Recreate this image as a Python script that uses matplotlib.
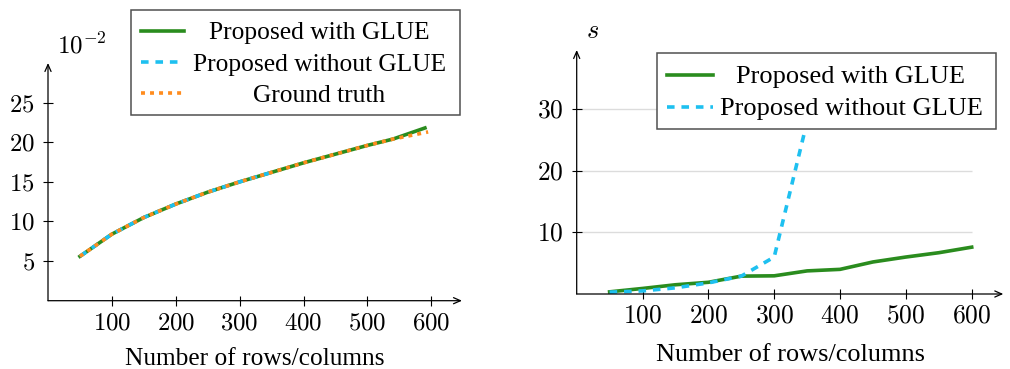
import matplotlib
matplotlib.use("Agg")
import matplotlib.pyplot as plt
from matplotlib.patches import Rectangle
from matplotlib.lines import Line2D
from matplotlib.ticker import FuncFormatter

plt.rcParams['font.family'] = ['Liberation Serif', 'DejaVu Serif']
plt.rcParams['mathtext.fontset'] = 'cm'

# left panel: error (x 10^-2)
x_err = [50, 100, 150, 200, 250, 300, 350, 400, 450, 500, 540, 590]
err_glue = [5.6, 8.4, 10.5, 12.2, 13.7, 15.0, 16.2, 17.4, 18.5, 19.6, 20.4, 21.8]
x_err_noglue = [50, 100, 150, 200, 250, 300, 350]
err_noglue = [5.6, 8.4, 10.5, 12.2, 13.7, 15.0, 16.2]
x_truth = [50, 100, 150, 200, 250, 300, 350, 400, 450, 500, 540, 595]
err_truth = [5.6, 8.4, 10.5, 12.2, 13.7, 15.0, 16.2, 17.4, 18.5, 19.6, 20.4, 21.3]

# right panel: time in seconds
x_time = [50, 100, 150, 200, 250, 300, 350, 400, 450, 500, 550, 600]
time_glue = [0.35, 0.9, 1.5, 1.9, 2.9, 2.95, 3.75, 4.0, 5.2, 6.0, 6.7, 7.6]
x_time_noglue = [50, 100, 150, 200, 250, 300, 350]
time_noglue = [0.3, 0.5, 1.0, 1.8, 2.9, 6.0, 28.0]

xticks = [100, 200, 300, 400, 500, 600]
yticks_err = [5, 10, 15, 20, 25]
yticks_time = [10, 20, 30]

GREEN = '#2a8c1e'
BLUE = '#1ec0f0'
ORANGE = '#ff8c1e'
LW = 2.6
styles = {
    'glue': dict(color=GREEN, lw=LW, ls='-'),
    'noglue': dict(color=BLUE, lw=LW, ls=(0, (2.1, 1.9))),
    'truth': dict(color=ORANGE, lw=LW, ls=(0, (1.1, 1.4))),
}

W, H = 1010, 369
fig = plt.figure(figsize=(W / 100, H / 100), dpi=100)


def fx(x):
    return x / W


def fy(y):
    return 1 - y / H


def px_axes(x0, y0, x1, y1):
    return fig.add_axes([fx(x0), fy(y1), fx(x1) - fx(x0), fy(y0) - fy(y1)])


def style_axis(ax, fs):
    for s in ax.spines.values():
        s.set_visible(False)
    ax.annotate('', xy=(1, 0), xytext=(0, 0), xycoords='axes fraction',
                arrowprops=dict(arrowstyle='->,head_length=0.5,head_width=0.22',
                                lw=0.9, color='k', shrinkA=0, shrinkB=0),
                annotation_clip=False)
    ax.annotate('', xy=(0, 1), xytext=(0, 0), xycoords='axes fraction',
                arrowprops=dict(arrowstyle='->,head_length=0.5,head_width=0.22',
                                lw=0.9, color='k', shrinkA=0, shrinkB=0),
                annotation_clip=False)
    ax.tick_params(direction='inout', length=7, width=0.8, labelsize=fs)
    ax.tick_params(axis='x', pad=5)
    ax.tick_params(axis='y', pad=6)
    ax.xaxis.set_major_formatter(FuncFormatter(lambda v, p: f'${v:.0f}$'))
    ax.yaxis.set_major_formatter(FuncFormatter(lambda v, p: f'${v:.0f}$'))
    ax.set_xticks(xticks)
    ax.set_xlim(0, 648)
    ax.patch.set_alpha(0)


def draw_legend(box, rows, sx, tx, fs):
    x0, y0, x1, y1 = box
    fig.add_artist(Rectangle((fx(x0), fy(y1)), fx(x1) - fx(x0), fy(y0) - fy(y1),
                             transform=fig.transFigure, facecolor='white',
                             edgecolor='#505050', lw=1.1, zorder=5))
    for y, key, label in rows:
        fig.add_artist(Line2D([fx(sx[0]), fx(sx[1])], [fy(y), fy(y)],
                              transform=fig.transFigure, zorder=6, **styles[key]))
        fig.text(fx(tx), fy(y), label, ha='center', va='center_baseline',
                 fontsize=fs, zorder=7)


# ---- left panel
ax1 = px_axes(48, 63, 462, 300.7)
style_axis(ax1, 17.9)
ax1.set_ylim(0, 30)
ax1.set_yticks(yticks_err)
ax1.plot(x_err, err_glue, **styles['glue'])
ax1.plot(x_err_noglue, err_noglue, **styles['noglue'])
ax1.plot(x_truth, err_truth, **styles['truth'])
ax1.set_xlabel('Number of rows/columns', fontsize=18.3)
ax1.xaxis.label.set_va('baseline')
ax1.xaxis.set_label_coords(0.5, -0.27)
fig.text(fx(57), fy(53), r'$10^{-2}$', fontsize=18, ha='left', va='baseline')
draw_legend((131, 10, 460, 115),
            [(31, 'glue', 'Proposed with GLUE'),
             (62, 'noglue', 'Proposed without GLUE'),
             (93, 'truth', 'Ground truth')],
            (141, 184), 319.5, 18.4)

# ---- right panel
ax2 = px_axes(576.7, 50, 1003.3, 294)
style_axis(ax2, 18.4)
ax2.set_ylim(0, 39.6)
ax2.set_yticks(yticks_time)
ax2.hlines(yticks_time, 0, 600, color='#dcdcdc', lw=1, zorder=0)
ax2.plot(x_time, time_glue, **styles['glue'])
ax2.plot(x_time_noglue, time_noglue, **styles['noglue'])
ax2.set_xlabel('Number of rows/columns', fontsize=18.9)
ax2.xaxis.label.set_va('baseline')
ax2.xaxis.set_label_coords(0.5, -0.273)
fig.text(fx(592), fy(38), r'$s$', fontsize=19, ha='center', va='baseline')
draw_legend((657, 53, 996, 129),
            [(75, 'glue', 'Proposed with GLUE'),
             (107, 'noglue', 'Proposed without GLUE')],
            (667, 713), 851, 19)

fig.savefig('out.png', dpi=100)
